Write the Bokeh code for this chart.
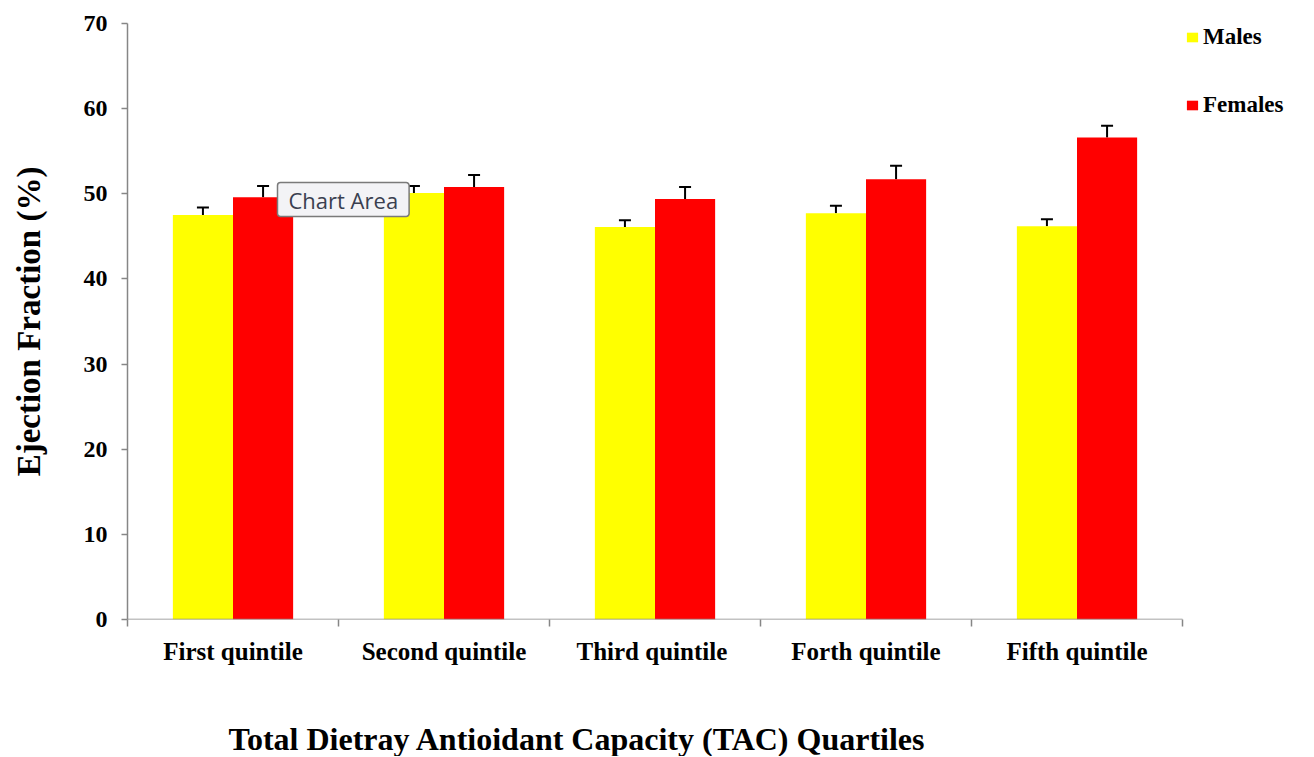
from bokeh.plotting import figure
from bokeh.models import (ColumnDataSource, Whisker, TeeHead, FixedTicker, Label,
                          Legend, LegendItem, Range1d, Title)
from bokeh.embed import file_html
from bokeh.resources import INLINE

# ---- data ----
categories = ["First quintile", "Second quintile", "Third  quintile",
              "Forth quintile", "Fifth quintile"]
males = [47.5, 50.1, 46.1, 47.7, 46.2]
males_err = [0.9, 0.8, 0.8, 0.9, 0.8]
females = [49.6, 50.8, 49.4, 51.7, 56.6]
females_err = [1.3, 1.4, 1.4, 1.6, 1.4]
series_names = ["Males", "Females"]
series_colors = ["#FFFF00", "#FF0000"]
y_ticks = [0, 10, 20, 30, 40, 50, 60, 70]
x_title = "Total Dietray Antioidant  Capacity (TAC)  Quartiles"

FONT = "Liberation Serif"
bar_w = 0.285
n = len(categories)
centers = [i + 0.5 for i in range(n)]

# layout (pixels)
W, H = 1306, 756
LEFT, TOP, BOTTOM = 127, 23, 620
AXIS_PX = 1055  # pixel length of the category axis
x_end = n * (W - LEFT) / AXIS_PX

src_m = ColumnDataSource(dict(
    x=[c - bar_w / 2 for c in centers], top=males,
    upper=[v + e for v, e in zip(males, males_err)]))
src_f = ColumnDataSource(dict(
    x=[c + bar_w / 2 for c in centers], top=females,
    upper=[v + e for v, e in zip(females, females_err)]))

p = figure(width=W, height=H, output_backend="svg", toolbar_location=None,
           x_range=Range1d(0, x_end), y_range=Range1d(0, 70),
           min_border_left=LEFT, min_border_right=0, min_border_top=TOP,
           min_border_bottom=H - BOTTOM)
p.outline_line_color = None
p.grid.visible = False
p.background_fill_color = "white"

AX = "#868686"
r_m = p.vbar(x="x", top="top", width=bar_w, source=src_m,
             fill_color=series_colors[0], line_color=None)
r_f = p.vbar(x="x", top="top", width=bar_w, source=src_f,
             fill_color=series_colors[1], line_color=None)

# category axis baseline (spans the categories only)
p.segment(x0=[0], y0=[0], x1=[n], y1=[0], line_color=AX, line_width=1.5)

for src in (src_m, src_f):
    w = Whisker(base="x", lower="top", upper="upper", source=src,
                dimension="height", line_color="black", line_width=2,
                lower_head=None,
                upper_head=TeeHead(size=12, line_color="black", line_width=2))
    p.add_layout(w)

# x axis
xa = p.xaxis[0]
xa.ticker = FixedTicker(ticks=centers, minor_ticks=list(range(n + 1)))
xa.major_label_overrides = {c: lab for c, lab in zip(centers, categories)}
xa.major_tick_out = 0
xa.major_tick_in = 0
xa.minor_tick_out = 7
xa.minor_tick_in = 0
xa.minor_tick_line_color = AX
xa.minor_tick_line_width = 1.5
xa.axis_line_color = None
xa.major_label_standoff = 11
xa.major_label_text_font = FONT
xa.major_label_text_font_style = "bold"
xa.major_label_text_font_size = "25px"
xa.major_label_text_color = "black"

# y axis
ya = p.yaxis[0]
ya.ticker = FixedTicker(ticks=y_ticks, minor_ticks=[])
ya.major_tick_out = 6
ya.major_tick_in = 0
ya.major_tick_line_color = AX
ya.major_tick_line_width = 1.5
ya.axis_line_color = AX
ya.axis_line_width = 1.5
ya.major_label_standoff = 14
ya.major_label_text_font = FONT
ya.major_label_text_font_style = "bold"
ya.major_label_text_font_size = "24px"
ya.major_label_text_color = "black"
ya.axis_label = "Ejection Fraction (%)"
ya.axis_label_text_font = FONT
ya.axis_label_text_font_style = "bold"
ya.axis_label_text_font_size = "33px"
ya.axis_label_text_color = "black"
ya.axis_label_standoff = 34

# spacer + x-axis title below the category labels
p.add_layout(Title(text=" ", text_font_size="10px", standoff=38), "below")
p.add_layout(Title(text=x_title, align="left", offset=101, standoff=0,
                   text_font=FONT, text_font_style="bold",
                   text_font_size="32px", text_color="black"), "below")

# legend (inside the frame, right of the last category); location = bottom-left
legend = Legend(items=[LegendItem(label=series_names[0], renderers=[r_m]),
                       LegendItem(label=series_names[1], renderers=[r_f])],
                location=(1185 - LEFT, 501), orientation="vertical",
                glyph_width=14, glyph_height=12, label_standoff=4,
                spacing=42, padding=0, margin=0,
                border_line_color=None, background_fill_alpha=0,
                label_text_font=FONT, label_text_font_style="bold",
                label_text_font_size="23px", label_text_color="black")
p.add_layout(legend, "center")

# tooltip-like box
p.add_layout(Label(x=150, y=420, x_units="screen", y_units="screen",
                   text="Chart Area", text_align="left", text_baseline="middle",
                   text_font="Open Sans", text_font_size="22px",
                   text_color="#3a3f50",
                   background_fill_color="#f3f3f6", border_line_color="#7a7a7a",
                   border_line_width=1.5, border_radius=3,
                   padding=dict(x=11, y=2)))

open("out.html", "w").write(file_html(p, INLINE))
